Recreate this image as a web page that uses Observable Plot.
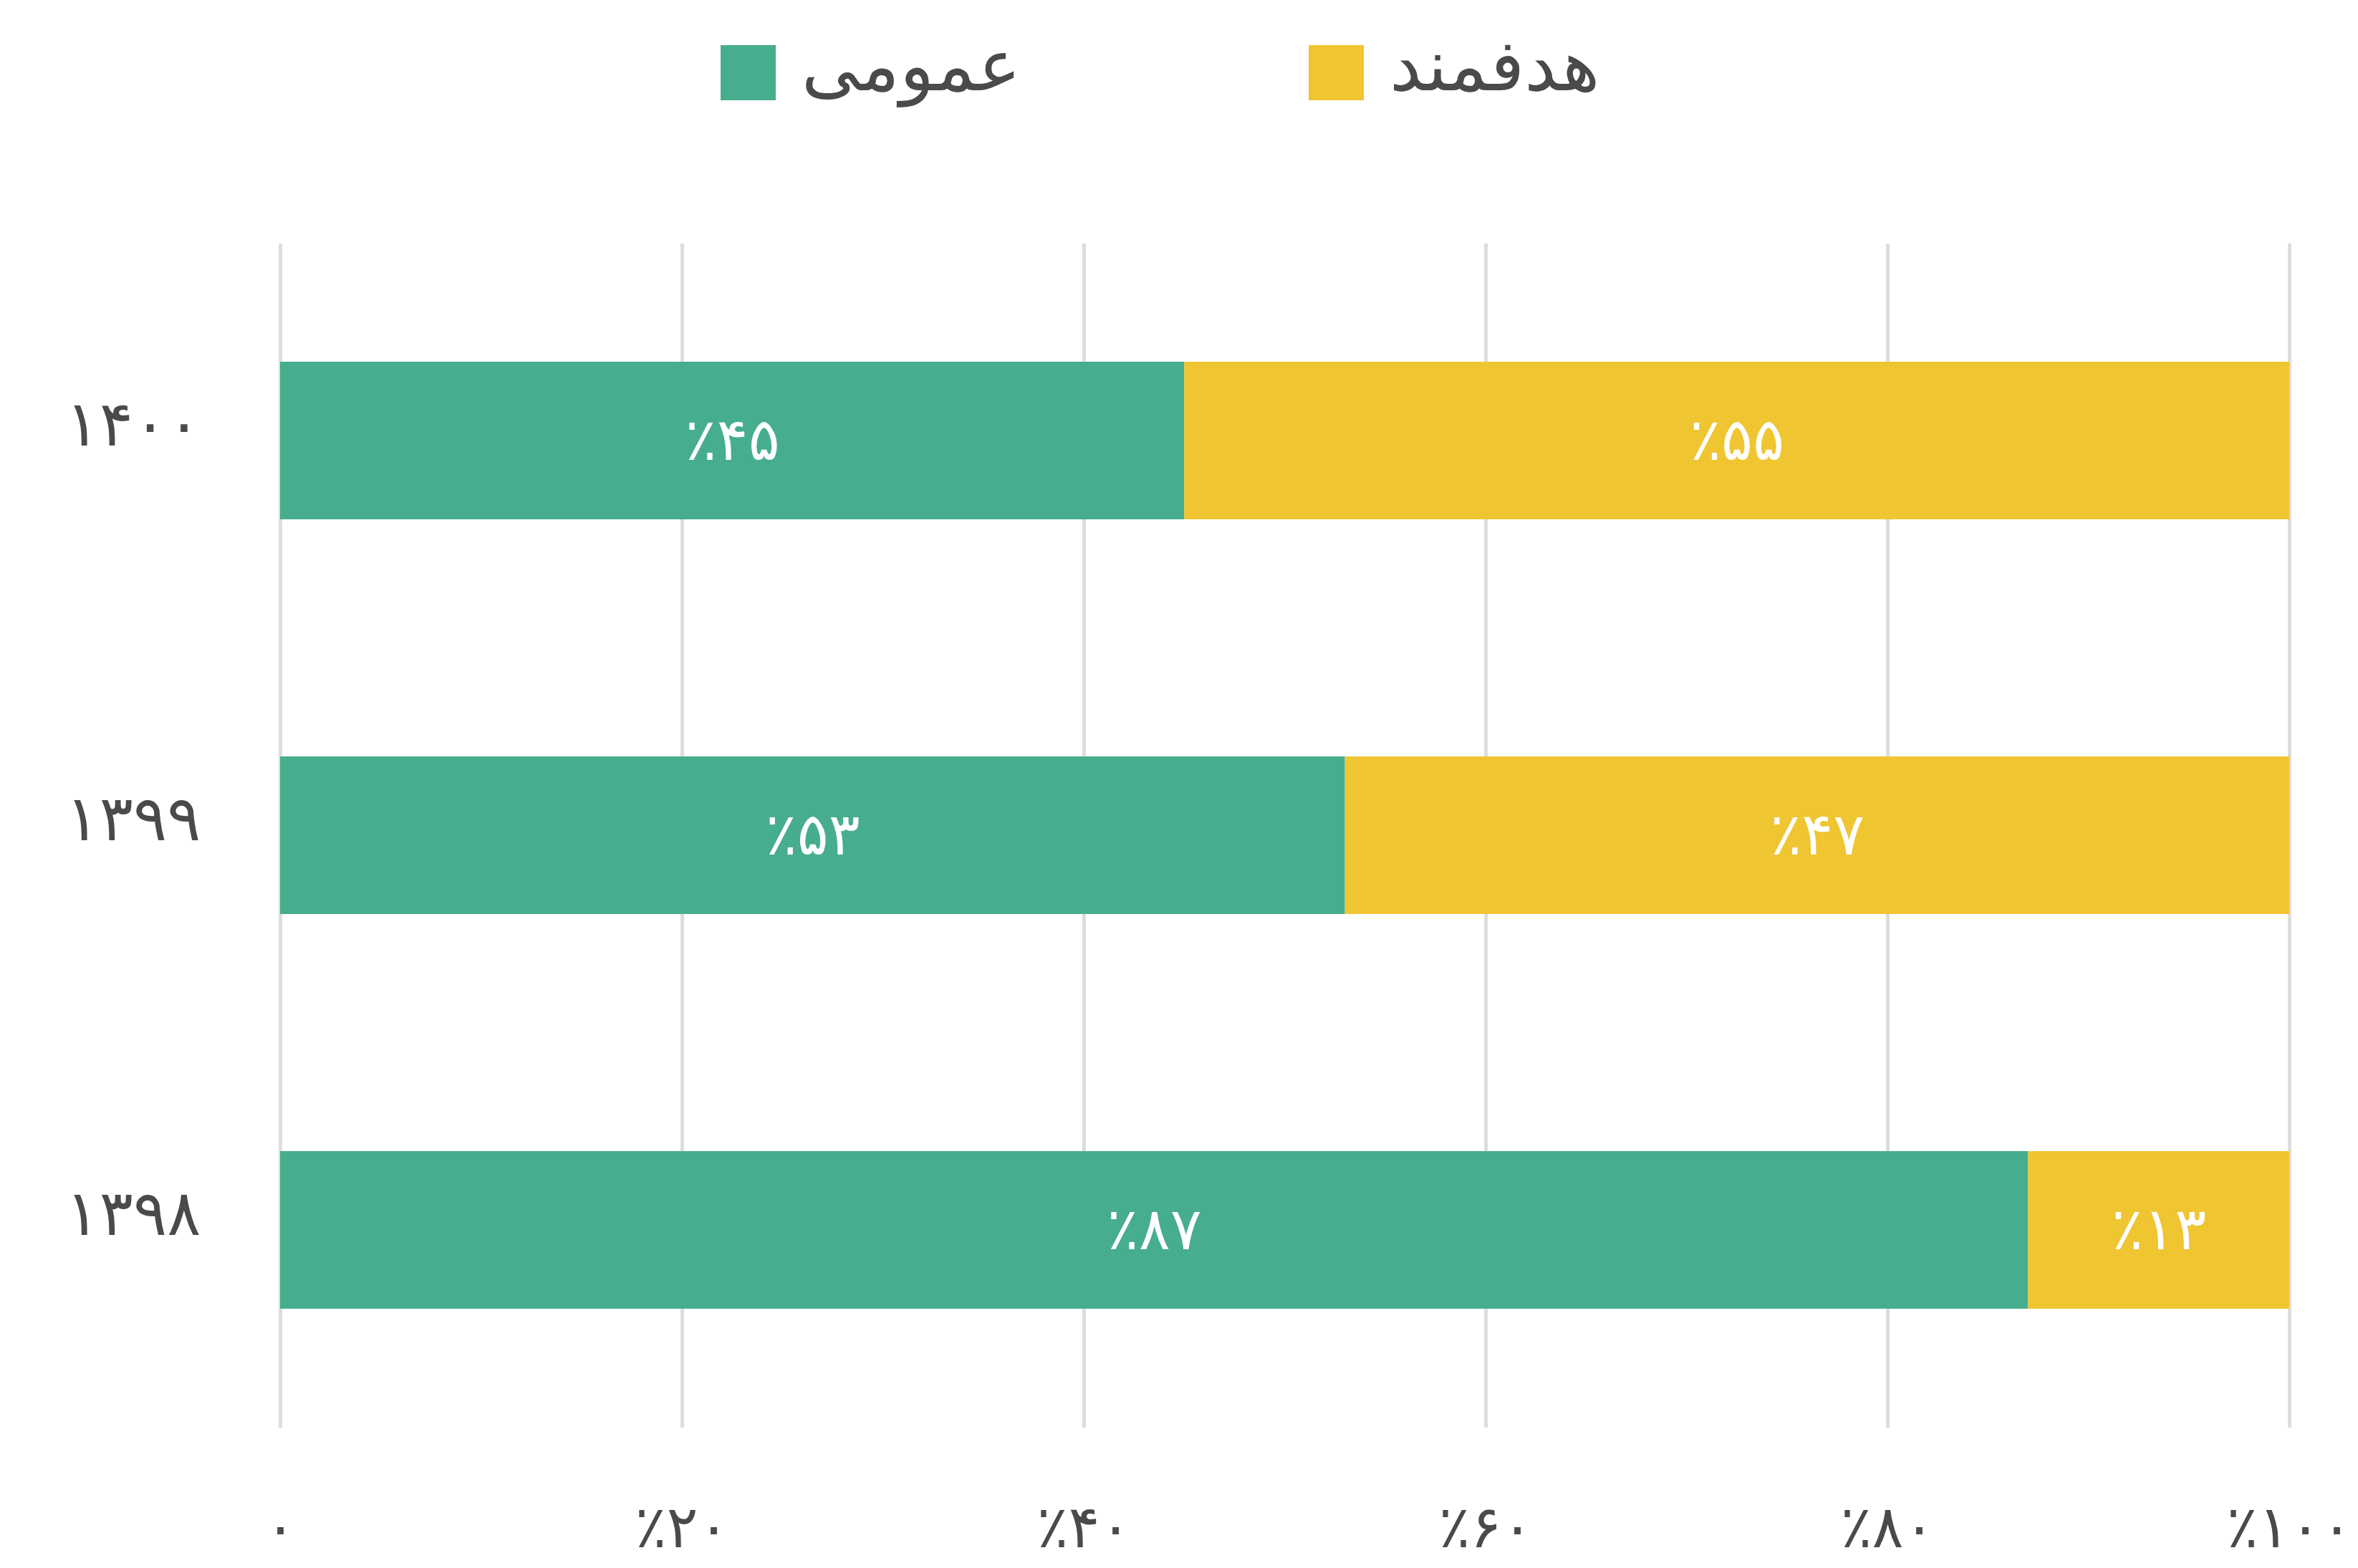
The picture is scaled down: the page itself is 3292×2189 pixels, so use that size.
<!DOCTYPE html>
<html><head><meta charset="utf-8">
<script src="https://cdn.jsdelivr.net/npm/d3@7"></script>
<script src="https://cdn.jsdelivr.net/npm/@observablehq/plot@0.6"></script>
<style>
html,body{margin:0;padding:0;background:#fff;}
#wrap{position:relative;width:3292px;height:2189px;font-family:"DejaVu Sans",sans-serif;overflow:hidden;}
#wrap svg{position:absolute;left:0;top:0;}
.sw{position:absolute;top:63px;width:77px;height:77px;}
.lt{position:absolute;top:22px;height:140px;line-height:140px;font-size:100px;color:#4a4a4a;direction:rtl;white-space:nowrap;}
</style></head><body>
<div id="wrap"></div>
<script>
// ---- data ----
const years = ["۱۴۰۰", "۱۳۹۹", "۱۳۹۸"];
const seriesNames = ["عمومی", "هدفمند"];
const generalShare = [45, 53, 87];
const targetedShare = [55, 47, 13];
const xTicks = [0, 20, 40, 60, 80, 100];
const xTickLabels = ["۰", "٪۲۰", "٪۴۰", "٪۶۰", "٪۸۰", "٪۱۰۰"];
const seriesColors = ["#47ad8f", "#f0c532"];

// ---- build table ----
const rows = [];
years.forEach((y, i) => {
  rows.push({year: y, series: seriesNames[0], value: generalShare[i]});
  rows.push({year: y, series: seriesNames[1], value: targetedShare[i]});
});
const faDigits = "۰۱۲۳۴۵۶۷۸۹";
const fa = v => String(v).replace(/\d/g, c => faDigits[+c]);
const pct = v => "٪" + fa(v);

const chart = Plot.plot({
  width: 3292,
  height: 2189,
  marginLeft: 391,
  marginRight: 96,
  marginTop: 340,
  marginBottom: 196,
  style: {fontFamily: "DejaVu Sans", background: "transparent"},
  x: {domain: [0, 100]},
  y: {domain: years, paddingInner: 0.6, paddingOuter: 0.3},
  color: {domain: seriesNames, range: seriesColors},
  marks: [
    Plot.gridX(xTicks, {stroke: "#dddddd", strokeWidth: 5, strokeOpacity: 1}),
    Plot.barX(rows, Plot.stackX({x: "value", y: "year", fill: "series", z: "series"})),
    Plot.text(rows, Plot.stackX({x: "value", y: "year", z: "series", text: d => pct(d.value), fill: "white", fontSize: 82})),
    Plot.axisX(xTicks, {tickSize: 0, tickPadding: 108, fontSize: 82, fill: "#4a4a4a", label: null,
      tickFormat: d => xTickLabels[xTicks.indexOf(d)]}),
    Plot.axisY({tickSize: 0, tickPadding: 111, fontSize: 88, fill: "#4a4a4a", label: null, dy: -22})
  ]
});

const wrap = document.getElementById("wrap");
wrap.appendChild(chart);

// ---- legend (HTML) ----
const legendItems = [
  {name: seriesNames[0], color: seriesColors[0], sw: 1006, tx: 1119},
  {name: seriesNames[1], color: seriesColors[1], sw: 1827, tx: 1940}
];
legendItems.forEach(it => {
  const s = document.createElement("div");
  s.className = "sw"; s.style.left = it.sw + "px"; s.style.background = it.color;
  wrap.appendChild(s);
  const t = document.createElement("div");
  t.className = "lt"; t.style.left = it.tx + "px"; t.textContent = it.name;
  wrap.appendChild(t);
});
</script>
</body></html>
